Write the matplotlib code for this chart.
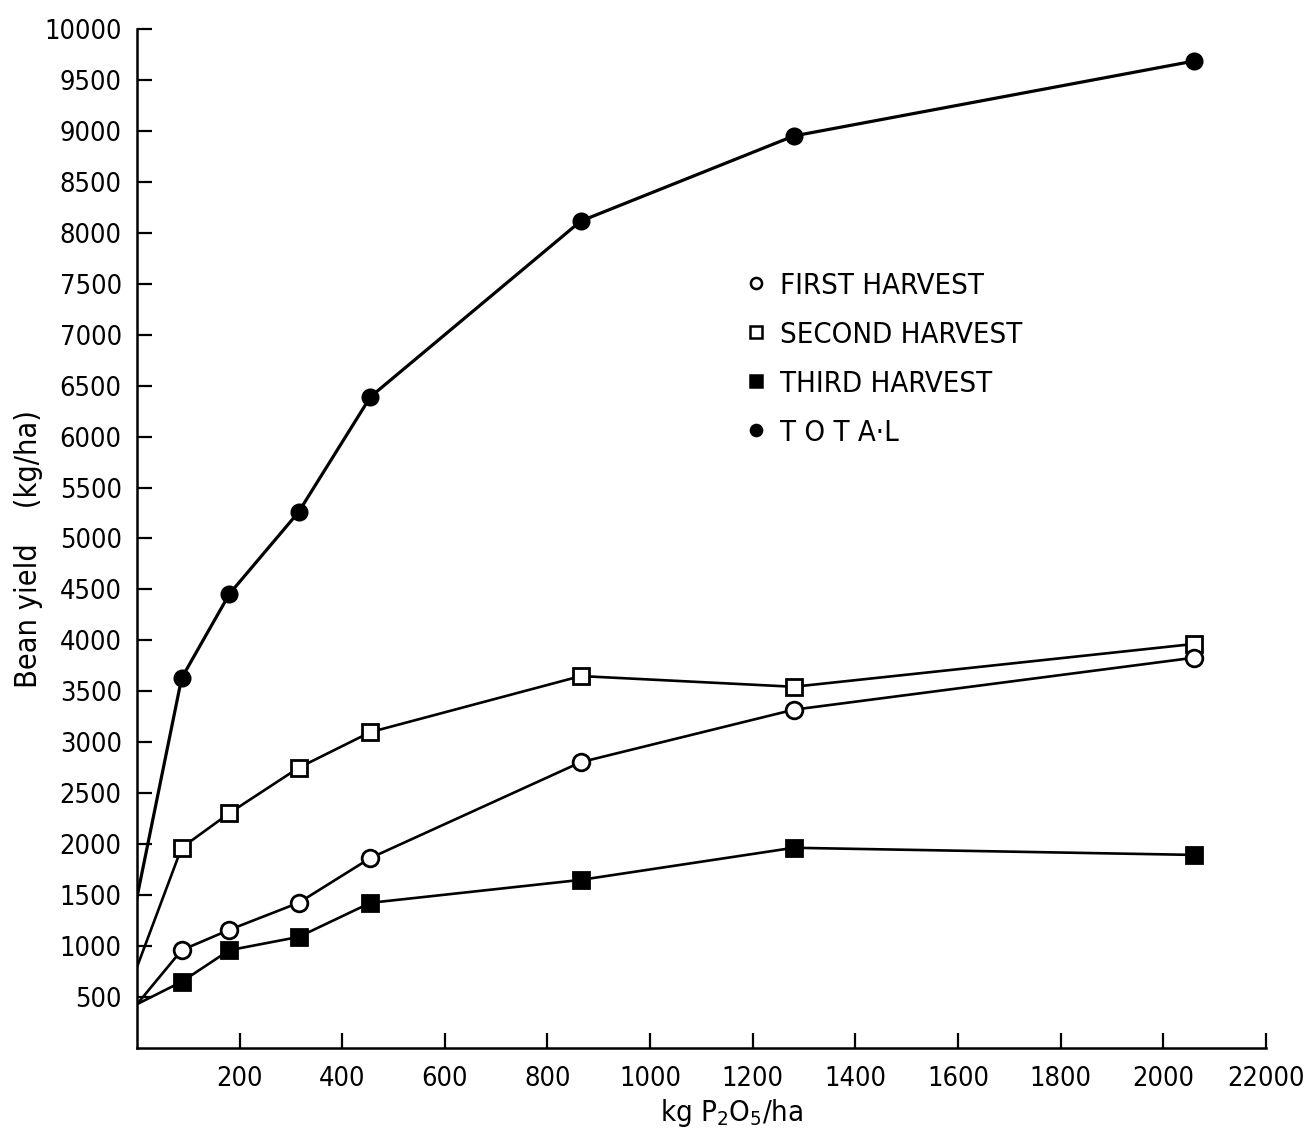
#!/usr/bin/env python3
"""Bean yield vs. applied phosphate, per harvest and total."""

import matplotlib

matplotlib.use("Agg")
import matplotlib.pyplot as plt
from matplotlib.lines import Line2D

# kg P2O5/ha (0 = where the hand-drawn lines start on the y axis)
p2o5 = [0, 87, 180, 315, 455, 865, 1280, 2060]

first_harvest = [430, 960, 1160, 1425, 1865, 2805, 3320, 3830]
second_harvest = [795, 1965, 2305, 2750, 3100, 3650, 3545, 3965]
third_harvest = [430, 650, 960, 1090, 1425, 1650, 1965, 1895]
total = [1480, 3630, 4455, 5260, 6390, 8115, 8950, 9685]

y_ticks = list(range(500, 10001, 500))
x_ticks = [200, 400, 600, 800, 1000, 1200, 1400, 1600, 1800, 2000, 2200]
x_tick_labels = ["200", "400", "600", "800", "1000", "1200", "1400", "1600", "1800", "2000", "22000"]

legend_labels = ["FIRST HARVEST", "SECOND HARVEST", "THIRD HARVEST", "T O T A\u00b7L"]

plt.rcParams["font.family"] = ["Liberation Sans Narrow", "DejaVu Sans"]
plt.rcParams["font.stretch"] = "condensed"


def main() -> None:
    fig = plt.figure(figsize=(13.11, 11.45), dpi=100)
    ax = fig.add_axes([0.1045, 0.0847, 0.861, 0.89])

    every = list(range(1, len(p2o5)))
    common = dict(color="black", markevery=every, markeredgecolor="black", markeredgewidth=2)
    ax.plot(p2o5, total, lw=2.3, marker="o", markersize=11, markerfacecolor="black", **common)
    ax.plot(p2o5, second_harvest, lw=1.9, marker="s", markersize=12, markerfacecolor="white", **common)
    ax.plot(p2o5, first_harvest, lw=1.9, marker="o", markersize=12, markerfacecolor="white", **common)
    ax.plot(p2o5, third_harvest, lw=1.9, marker="s", markersize=11, markerfacecolor="black", **common)

    ax.set_xlim(0, 2200)
    ax.set_ylim(0, 10000)
    ax.set_xticks(x_ticks)
    ax.set_xticklabels(x_tick_labels)
    ax.set_yticks(y_ticks)
    ax.tick_params(direction="in", length=11, width=1.6, labelsize=19.5)
    ax.tick_params(axis="x", pad=13)
    ax.tick_params(axis="y", pad=11)
    for side in ("top", "right"):
        ax.spines[side].set_visible(False)
    for side in ("left", "bottom"):
        ax.spines[side].set_linewidth(1.8)

    ax.set_xlabel("kg P$_2$O$_5$/ha", fontsize=21)
    ax.xaxis.set_label_coords(0.527, -0.048)
    ax.set_ylabel("Bean yield    (kg/ha)", fontsize=22)
    ax.yaxis.set_label_coords(-0.083, 0.49)

    handles = [
        Line2D([], [], ls="none", marker="o", ms=8, mfc="white", mec="black", mew=1.8),
        Line2D([], [], ls="none", marker="s", ms=8, mfc="white", mec="black", mew=1.8),
        Line2D([], [], ls="none", marker="s", ms=8, mfc="black", mec="black", mew=1.8),
        Line2D([], [], ls="none", marker="o", ms=8, mfc="black", mec="black", mew=1.8),
    ]
    ax.legend(
        handles,
        legend_labels,
        loc="upper left",
        bbox_to_anchor=(0.541, 0.762),
        frameon=False,
        fontsize=21,
        handlelength=0.6,
        handletextpad=0.5,
        labelspacing=0.72,
        borderpad=0,
        borderaxespad=0,
    )

    fig.savefig("out.png", dpi=100)
    plt.close(fig)


if __name__ == "__main__":
    main()
